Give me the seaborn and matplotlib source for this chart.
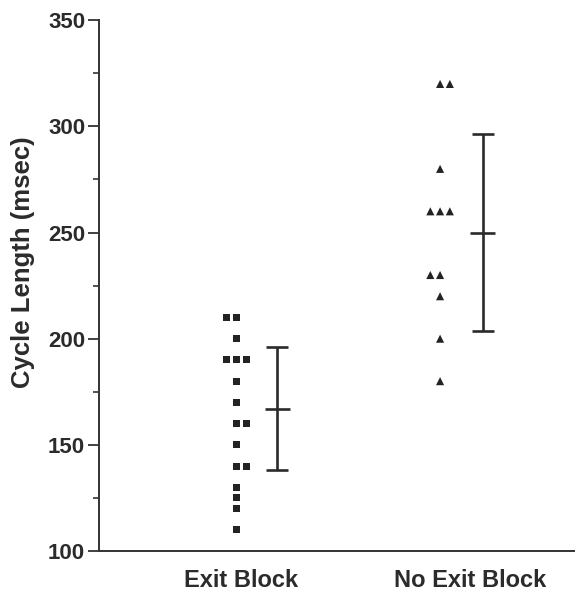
import numpy as np
import pandas as pd
import matplotlib
matplotlib.use("Agg")
import matplotlib.pyplot as plt
import seaborn as sns
from matplotlib.ticker import MultipleLocator

# values (msec)
groups = ["Exit Block", "No Exit Block"]
exit_block = [210, 210, 200, 190, 190, 190, 180, 170, 160, 160,
              150, 140, 140, 130, 125, 120, 110]
no_exit_block = [320, 320, 280, 260, 260, 260, 230, 230, 220, 200, 180]
group_means = [167, 250]
group_sd = [29, 46.5]

# side-by-side slots for tied values (layout only)
exit_slots = [-1, 0, 0, -1, 0, 1, 0, 0, 0, 1, 0, 0, 1, 0, 0, 0, 0]
no_exit_slots = [0, 1, 0, -1, 0, 1, -1, 0, 0, 0, 0]

slot_w = 0.048
df = pd.DataFrame({
    "group": [groups[0]] * len(exit_block) + [groups[1]] * len(no_exit_block),
    "cl": exit_block + no_exit_block,
})
df["x"] = [0 + s * slot_w for s in exit_slots] + [1 + s * slot_w for s in no_exit_slots]

sns.set_style("ticks")
plt.rcParams["font.family"] = ["Liberation Sans", "DejaVu Sans"]
plt.rcParams["font.weight"] = "bold"

fig = plt.figure(figsize=(5.75, 5.91), dpi=100)
ax = fig.add_axes([0.1722, 0.0677, 0.828, 0.898])

dark = "#232323"
sns.scatterplot(data=df, x="x", y="cl", hue="group", style="group",
                markers={groups[0]: "s", groups[1]: "^"},
                palette={groups[0]: dark, groups[1]: dark},
                size="group", sizes={groups[0]: 26, groups[1]: 34},
                linewidth=0, legend=False, ax=ax)

# mean +/- SD bars
err_x = [0.2, 1.21]
ax.errorbar(err_x, group_means, yerr=group_sd, fmt="none", ecolor="#2a2a2a",
            elinewidth=1.9, capsize=7.6, capthick=1.9)
for xm, m in zip(err_x, group_means):
    ax.hlines(m, xm - 0.062, xm + 0.062, color="#2a2a2a", linewidth=1.9)

ax.set_xlim(-0.677, 1.664)
ax.set_ylim(100, 350)
ax.yaxis.set_major_locator(MultipleLocator(50))
ax.yaxis.set_minor_locator(MultipleLocator(25))
ax.set_xticks([0.02, 1.15])
ax.set_xticklabels(groups, fontsize=17, fontweight="bold", color="#2b2b2b")
ax.tick_params(axis="x", length=0, pad=13)
ax.tick_params(axis="y", which="major", length=8, width=1.3, pad=2,
               labelsize=16, color="#333333", labelcolor="#2b2b2b")
ax.tick_params(axis="y", which="minor", length=4, width=1.2, color="#333333")
for lab in ax.get_yticklabels():
    lab.set_fontweight("bold")

ax.set_xlabel("")
ax.set_ylabel("Cycle Length (msec)", fontsize=18.5, fontweight="bold", color="#2b2b2b")
ax.yaxis.set_label_coords(-0.134, 0.545)

sns.despine(ax=ax)
for sp in ["left", "bottom"]:
    ax.spines[sp].set_linewidth(1.4)
    ax.spines[sp].set_color("#333333")

fig.savefig("out.png", dpi=100, facecolor="white")
